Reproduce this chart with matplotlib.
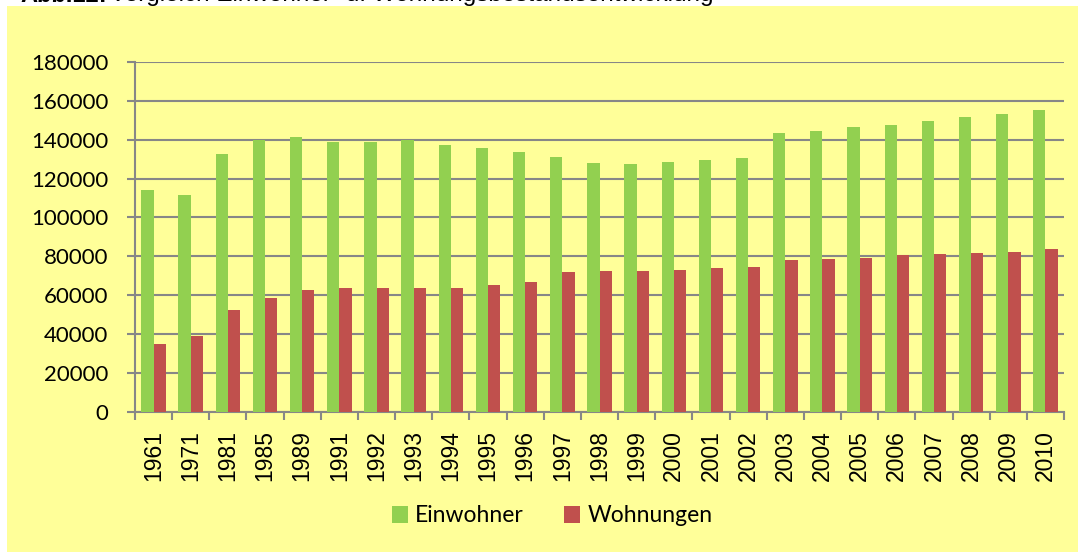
import matplotlib
matplotlib.use("Agg")
import matplotlib.pyplot as plt
from matplotlib.patches import Rectangle
import numpy as np

years = ["1961", "1971", "1981", "1985", "1989", "1991", "1992", "1993", "1994",
         "1995", "1996", "1997", "1998", "1999", "2000", "2001", "2002", "2003",
         "2004", "2005", "2006", "2007", "2008", "2009", "2010"]
einwohner = [114300, 111700, 132400, 139800, 141500, 138900, 138800, 139800, 137400,
             135500, 133600, 130900, 128200, 127600, 128300, 129400, 130400, 143700,
             144600, 146500, 147700, 149700, 151600, 153100, 155200]
wohnungen = [35100, 38800, 52500, 58700, 62500, 63800, 63600, 63800, 63600,
             65000, 66900, 72000, 72400, 72500, 73100, 74100, 74600, 77900,
             78400, 78900, 80800, 81400, 81800, 82300, 84000]
yticks = [0, 20000, 40000, 60000, 80000, 100000, 120000, 140000, 160000, 180000]
series_names = ["Einwohner", "Wohnungen"]

W, H = 1078, 552
fig = plt.figure(figsize=(W / 100, H / 100), dpi=100, facecolor="white")
yellow = "#FFFF99"
fig.patches.append(Rectangle((7 / W, 0), 1, 1 - 6 / H, transform=fig.transFigure,
                             facecolor=yellow, edgecolor="none", zorder=-10))

# title (partly cut off at top, as in the reference)
fig.text(20 / W, 1 - 1.5 / H, "Abb.12:", fontsize=17, fontweight="bold",
         family="Liberation Sans", va="baseline", ha="left")
fig.text(110 / W, 1 - 1.5 / H, "Vergleich Einwohner- u. Wohnungsbestandsentwicklung",
         fontsize=17.5, family="Liberation Sans", va="baseline", ha="left")

ax = fig.add_axes([135 / W, 1 - 411.7 / H, (1064 - 135) / W, (411.7 - 62) / H])
ax.set_facecolor("none")

x = np.arange(len(years))
bw = 0.33
green = "#92D050"
red = "#C0504D"
ax.bar(x - bw / 2, einwohner, width=bw, color=green, label=series_names[0], zorder=3)
ax.bar(x + bw / 2, wohnungen, width=bw, color=red, label=series_names[1], zorder=3)

gray = "#878787"
ax.set_ylim(0, 180000)
ax.set_xlim(-0.5, len(years) - 0.5)
ax.set_yticks(yticks)
ax.set_yticklabels([str(v) for v in yticks], fontsize=16, family="Lato")
ax.yaxis.grid(True, color=gray, linewidth=1.5, zorder=0)
ax.set_axisbelow(True)

ax.set_xticks(x)
ax.set_xticklabels(years, rotation=90, fontsize=16.5, family="Liberation Sans")
ax.set_xticks(np.arange(len(years) + 1) - 0.5, minor=True)
ax.tick_params(axis="x", which="major", length=0, pad=13)
ax.tick_params(axis="x", which="minor", length=6, width=1.5, color=gray, direction="out")
ax.tick_params(axis="y", length=6, width=1.5, color=gray, pad=13, direction="out")

for s in ["top", "right"]:
    ax.spines[s].set_visible(False)
for s in ["left", "bottom"]:
    ax.spines[s].set_color(gray)
    ax.spines[s].set_linewidth(1.5)

leg = fig.legend(loc="center", bbox_to_anchor=(552 / W, 1 - 516 / H), ncol=2,
                 frameon=False, prop={"family": "Lato", "size": 16.5},
                 handlelength=0.7, handleheight=0.7, handletextpad=0.3,
                 columnspacing=1.8)

fig.savefig("out.png", dpi=100, facecolor="white")
